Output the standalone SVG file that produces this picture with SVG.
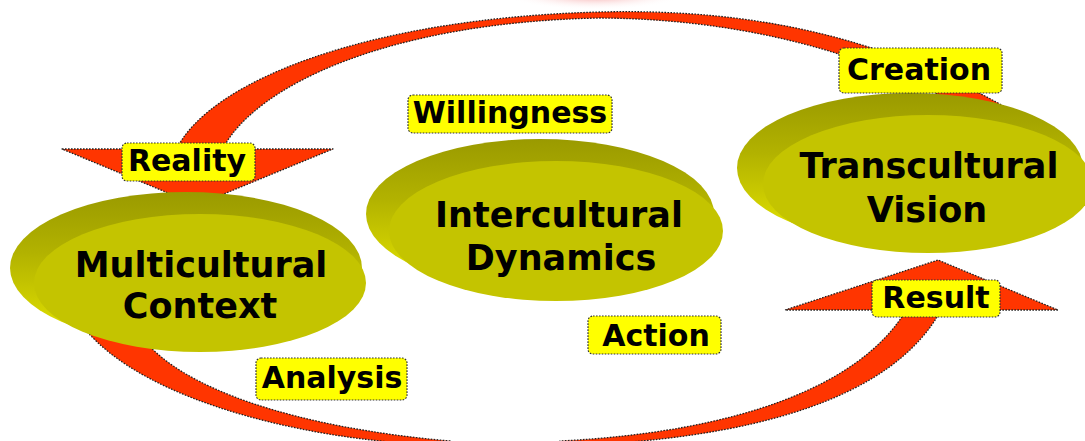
<svg xmlns="http://www.w3.org/2000/svg" width="1085" height="441" viewBox="0 0 1085 441">
<defs>
<linearGradient id="rim" x1="0" y1="0" x2="0" y2="1">
<stop offset="0" stop-color="#9a9a00"/>
<stop offset="0.4" stop-color="#b2b200"/>
<stop offset="1" stop-color="#e6e600"/>
</linearGradient>
<radialGradient id="blob" cx="0.5" cy="0.5" r="0.5">
<stop offset="0" stop-color="#f39090"/>
<stop offset="1" stop-color="#ffffff" stop-opacity="0"/>
</radialGradient>
<style>
.arrow{fill:#ff3500;stroke:#222;stroke-width:1.3;stroke-dasharray:1.6 1.4;stroke-linejoin:round}
.back{fill:url(#rim)}
.front{fill:#c4c400}
.title{font-family:"DejaVu Sans",Verdana,sans-serif;font-weight:bold;font-size:35px;fill:#000;text-anchor:middle}
.lbox{fill:#ffff00;stroke:#333;stroke-width:1.2;stroke-dasharray:1.6 1.4}
.ltext{font-family:"DejaVu Sans",Verdana,sans-serif;font-weight:bold;font-size:30px;fill:#000;text-anchor:middle}
</style>
</defs>
<rect width="1085" height="441" fill="#ffffff"/>
<ellipse cx="595" cy="-6" rx="90" ry="16" fill="url(#blob)"/>
<g id="connectors">
<path class="arrow" d="M176,150 C210,80 370,18 600,12 C760,8 900,40 1035,125 L1000,132 C900,62 760,19 600,18 C390,22 255,85 222,150 Z"/>
<path class="arrow" d="M62,149 L333,149 L197,205 Z"/>
<path class="arrow" d="M75,315 C120,390 280,440 450,446 L450,441 C300,428 180,390 140,335 Z"/>
<path class="arrow" d="M560,446 C750,440 890,400 940,312 L905,312 C860,385 740,432 560,441 Z"/>
<path class="arrow" d="M785,310 L938,260 L1058,310 Z"/>
</g>
<g id="node-multicultural">
<ellipse class="back" cx="186" cy="268" rx="176" ry="76"/>
<ellipse class="front" cx="200" cy="283" rx="166" ry="69"/>
<text class="title" x="201" y="277">Multicultural</text>
<text class="title" x="200" y="318">Context</text>
</g>
<g id="node-intercultural">
<ellipse class="back" cx="540" cy="214" rx="174" ry="75"/>
<ellipse class="front" cx="556" cy="231" rx="167" ry="70"/>
<text class="title" x="559" y="227">Intercultural</text>
<text class="title" x="561" y="270">Dynamics</text>
</g>
<g id="node-transcultural">
<ellipse class="back" cx="910" cy="168" rx="173" ry="75"/>
<ellipse class="front" cx="928" cy="184" rx="165" ry="69"/>
<text class="title" x="929" y="178">Transcultural</text>
<text class="title" x="927" y="222">Vision</text>
</g>
<g id="label-reality">
<rect class="lbox" x="122" y="143" width="133" height="38" rx="5"/>
<text class="ltext" x="187" y="171">Reality</text>
</g>
<g id="label-creation">
<rect class="lbox" x="839" y="48" width="163" height="45" rx="5"/>
<text class="ltext" x="919" y="80">Creation</text>
</g>
<g id="label-willingness">
<rect class="lbox" x="408" y="95" width="204" height="38" rx="5"/>
<text class="ltext" x="510" y="123">Willingness</text>
</g>
<g id="label-analysis">
<rect class="lbox" x="256" y="358" width="151" height="42" rx="5"/>
<text class="ltext" x="332" y="388">Analysis</text>
</g>
<g id="label-action">
<rect class="lbox" x="588" y="316" width="133" height="38" rx="5"/>
<text class="ltext" x="656" y="346">Action</text>
</g>
<g id="label-result">
<rect class="lbox" x="872" y="280" width="128" height="37" rx="5"/>
<text class="ltext" x="936" y="308">Result</text>
</g>
</svg>
